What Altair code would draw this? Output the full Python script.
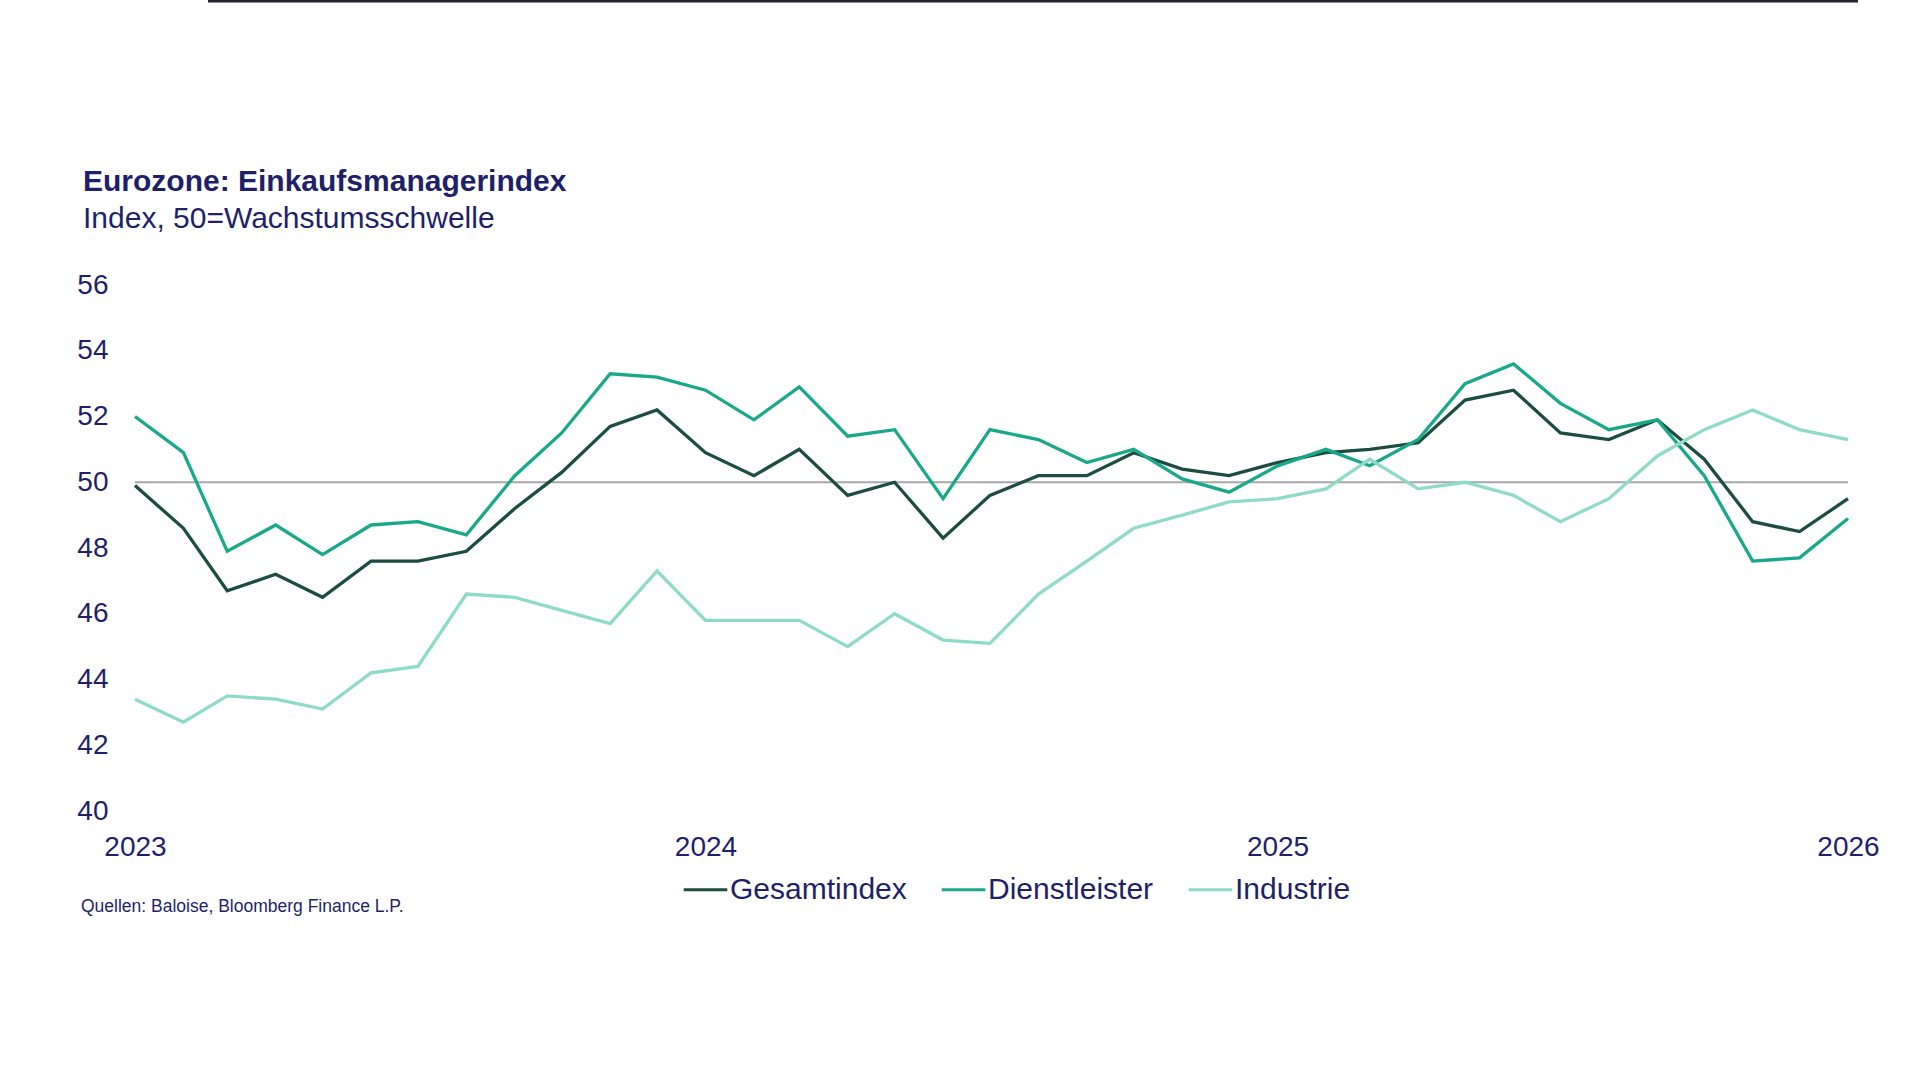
import altair as alt
import pandas as pd

# Monthly PMI readings, Jan 2023 – Jan 2026
months = pd.date_range("2023-01-01", periods=37, freq="MS")

gesamtindex = [49.9, 48.6, 46.7, 47.2, 46.5, 47.6, 47.6, 47.9, 49.2, 50.3, 51.7, 52.2,
               50.9, 50.2, 51.0, 49.6, 50.0, 48.3, 49.6, 50.2, 50.2, 50.9, 50.4, 50.2,
               50.6, 50.9, 51.0, 51.2, 52.5, 52.8, 51.5, 51.3, 51.9, 50.7, 48.8, 48.5, 49.5]
dienstleister = [52.0, 50.9, 47.9, 48.7, 47.8, 48.7, 48.8, 48.4, 50.2, 51.5, 53.3, 53.2,
                 52.8, 51.9, 52.9, 51.4, 51.6, 49.5, 51.6, 51.3, 50.6, 51.0, 50.1, 49.7,
                 50.5, 51.0, 50.5, 51.3, 53.0, 53.6, 52.4, 51.6, 51.9, 50.2, 47.6, 47.7, 48.9]
industrie = [43.4, 42.7, 43.5, 43.4, 43.1, 44.2, 44.4, 46.6, 46.5, 46.1, 45.7, 47.3,
             45.8, 45.8, 45.8, 45.0, 46.0, 45.2, 45.1, 46.6, 47.6, 48.6, 49.0, 49.4,
             49.5, 49.8, 50.7, 49.8, 50.0, 49.6, 48.8, 49.5, 50.8, 51.6, 52.2, 51.6, 51.3]

series_names = ["Gesamtindex", "Dienstleister", "Industrie"]
series_colors = ["#1d4d40", "#18a98a", "#8fdcc6"]
y_ticks = [40, 42, 44, 46, 48, 50, 52, 54, 56]
threshold = 50

title_text = "Eurozone: Einkaufsmanagerindex"
subtitle_text = "Index, 50=Wachstumsschwelle"
source_text = "Quellen: Baloise, Bloomberg Finance L.P."

NAVY = "#1f1f6b"
FONT = "Liberation Sans"

rows = []
for name, values in zip(series_names, [gesamtindex, dienstleister, industrie]):
    for m, v in zip(months, values):
        rows.append({"month": m, "series": name, "value": v})
df = pd.DataFrame(rows)

x_enc = alt.X(
    "month:T",
    scale=alt.Scale(domain=[alt.DateTime(year=2023, month=1, date=1),
                            alt.DateTime(year=2026, month=1, date=1)]),
    axis=alt.Axis(
        values=[alt.DateTime(year=y, month=1, date=1) for y in (2023, 2024, 2025, 2026)],
        format="%Y", title=None, domain=False, ticks=False, grid=False,
        labelFlush=False, labelOverlap=False, labelPadding=22,
    ),
)
y_enc = alt.Y(
    "value:Q",
    scale=alt.Scale(domain=[40, 56], nice=False, zero=False),
    axis=alt.Axis(values=y_ticks, title=None, domain=False, ticks=False, grid=False,
                  labelPadding=27),
)

threshold_rule = alt.Chart(alt.Data(values=[{"t": threshold}])).mark_rule(
    color="#a8a8a8", strokeWidth=2
).encode(y=alt.Y("t:Q", scale=alt.Scale(domain=[40, 56])))

lines = alt.Chart(df).mark_line(strokeWidth=3.3).encode(
    x=x_enc,
    y=y_enc,
    color=alt.Color(
        "series:N",
        scale=alt.Scale(domain=series_names, range=series_colors),
        sort=series_names,
        legend=alt.Legend(
            title=None, orient="none", direction="horizontal",
            legendX=547, legendY=581,
            symbolType="stroke", symbolSize=1900, symbolStrokeWidth=3,
            labelFontSize=30, labelColor=NAVY, labelFont=FONT, labelLimit=0,
            labelOffset=1, columnPadding=28,
        ),
    ),
)


def label(text, x, y, size, weight="normal"):
    return alt.Chart(alt.Data(values=[{}])).mark_text(
        align="left", baseline="alphabetic", fontSize=size, fontWeight=weight,
        color=NAVY, font=FONT,
    ).encode(x=alt.value(x), y=alt.value(y), text=alt.value(text))


title_mark = label(title_text, -52, -94, 30, "bold")
subtitle_mark = label(subtitle_text, -52, -57, 30)
source_mark = label(source_text, -54, 627, 17.5)

top_edge = alt.Chart(alt.Data(values=[{}])).mark_rule(
    color="#23262e", strokeWidth=3
).encode(x=alt.value(73), x2=alt.value(1723), y=alt.value(-284))

chart = alt.layer(
    threshold_rule, lines, title_mark, subtitle_mark, source_mark, top_edge
).properties(
    width=1713,
    height=526,
    background="white",
    autosize=alt.AutoSizeParams(type="none"),
    padding={"left": 135, "top": 285, "right": 72, "bottom": 269},
).configure_view(stroke=None).configure_axis(
    labelFont=FONT, labelFontSize=28, labelColor=NAVY
)

chart.save("out.html", embed_options={"renderer": "svg", "actions": False})
